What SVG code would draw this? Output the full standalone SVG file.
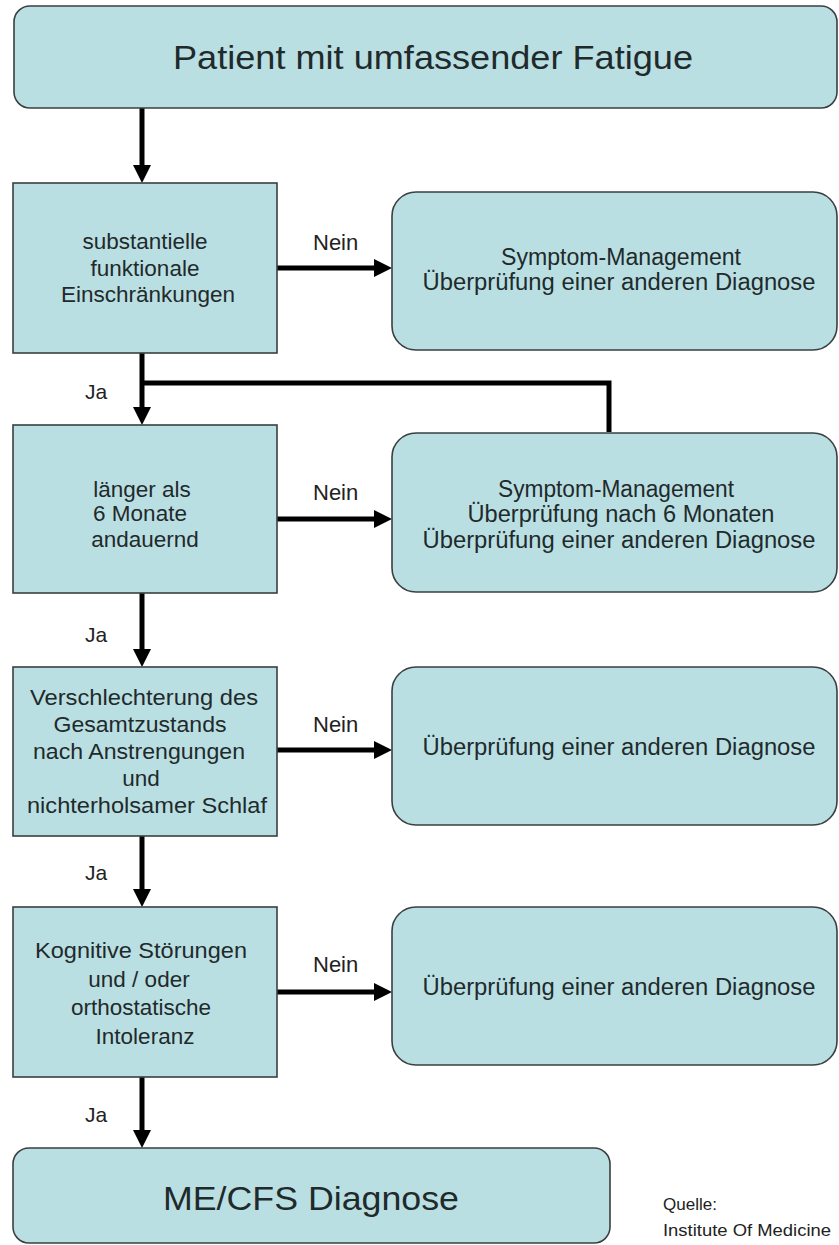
<svg xmlns="http://www.w3.org/2000/svg" width="839" height="1245" viewBox="0 0 839 1245">
<style>
.box{fill:#badfe3;stroke:#3a3f40;stroke-width:1.6}
.t{font-family:"Liberation Sans",Arial,sans-serif;fill:#1f2a2b;text-anchor:middle}
.b{font-size:22.5px}
.r{font-size:23px}
.lbl{font-family:"Liberation Sans",Arial,sans-serif;fill:#222}
.ja{font-size:21px}
.nein{font-size:22px}
.src{font-size:17px}
.ln{stroke:#000;stroke-width:5;fill:none}
</style>
<defs>
<marker id="ah" markerUnits="userSpaceOnUse" markerWidth="20" markerHeight="20" refX="8" refY="9" orient="auto">
<path d="M0,0 L18,9 L0,18 z" fill="#000"/>
</marker>
</defs>
<rect width="839" height="1245" fill="#fff"/>

<g id="connectors">
<line class="ln" x1="142" y1="108" x2="142" y2="173" marker-end="url(#ah)"/>
<line class="ln" x1="142" y1="353" x2="142" y2="415" marker-end="url(#ah)"/>
<polyline class="ln" points="142,383 609,383 609,432" stroke-linejoin="miter"/>
<line class="ln" x1="142" y1="593" x2="142" y2="657" marker-end="url(#ah)"/>
<line class="ln" x1="142" y1="836" x2="142" y2="897" marker-end="url(#ah)"/>
<line class="ln" x1="142" y1="1077" x2="142" y2="1138" marker-end="url(#ah)"/>
<line class="ln" x1="277" y1="268" x2="382" y2="268" marker-end="url(#ah)"/>
<line class="ln" x1="277" y1="519" x2="382" y2="519" marker-end="url(#ah)"/>
<line class="ln" x1="277" y1="750" x2="382" y2="750" marker-end="url(#ah)"/>
<line class="ln" x1="277" y1="992" x2="382" y2="992" marker-end="url(#ah)"/>
<text class="lbl nein" x="313" y="250">Nein</text>
<text class="lbl nein" x="313" y="500">Nein</text>
<text class="lbl nein" x="313" y="732">Nein</text>
<text class="lbl nein" x="313" y="972">Nein</text>
<text class="lbl ja" x="85" y="399">Ja</text>
<text class="lbl ja" x="85" y="642">Ja</text>
<text class="lbl ja" x="85" y="880">Ja</text>
<text class="lbl ja" x="85" y="1122">Ja</text>
</g>

<g id="start">
<rect class="box" x="14" y="6" width="823" height="102" rx="16" ry="16"/>
<text class="t" x="433" y="69" font-size="33" textLength="520" lengthAdjust="spacingAndGlyphs">Patient mit umfassender Fatigue</text>
</g>

<g id="q1">
<rect class="box" x="13" y="183" width="264" height="170"/>
<text class="t b" x="145" y="249">substantielle</text>
<text class="t b" x="145" y="276">funktionale</text>
<text class="t b" x="148" y="302">Einschränkungen</text>
</g>
<g id="r1">
<rect class="box" x="392" y="192" width="445" height="158" rx="24" ry="24"/>
<text class="t r" x="621" y="265" textLength="240" lengthAdjust="spacingAndGlyphs">Symptom-Management</text>
<text class="t r" x="619" y="290" textLength="393" lengthAdjust="spacingAndGlyphs">Überprüfung  einer anderen Diagnose</text>
</g>

<g id="q2">
<rect class="box" x="13" y="425" width="264" height="168"/>
<text class="t b" x="142" y="497">länger als</text>
<text class="t b" x="140" y="521">6 Monate</text>
<text class="t b" x="145" y="547">andauernd</text>
</g>
<g id="r2">
<rect class="box" x="392" y="433" width="445" height="159" rx="24" ry="24"/>
<text class="t r" x="616" y="497" textLength="236" lengthAdjust="spacingAndGlyphs">Symptom-Management</text>
<text class="t r" x="621" y="522" textLength="307" lengthAdjust="spacingAndGlyphs">Überprüfung  nach 6 Monaten</text>
<text class="t r" x="619" y="548" textLength="393" lengthAdjust="spacingAndGlyphs">Überprüfung  einer anderen Diagnose</text>
</g>

<g id="q3">
<rect class="box" x="13" y="667" width="264" height="169"/>
<text class="t b" x="144" y="705" textLength="228" lengthAdjust="spacingAndGlyphs">Verschlechterung  des</text>
<text class="t b" x="140" y="732" textLength="173" lengthAdjust="spacingAndGlyphs">Gesamtzustands</text>
<text class="t b" x="139" y="759" textLength="212" lengthAdjust="spacingAndGlyphs">nach Anstrengungen</text>
<text class="t b" x="141" y="786">und</text>
<text class="t b" x="147" y="813" textLength="240" lengthAdjust="spacingAndGlyphs">nichterholsamer  Schlaf</text>
</g>
<g id="r3">
<rect class="box" x="392" y="667" width="445" height="158" rx="24" ry="24"/>
<text class="t r" x="619" y="755" textLength="393" lengthAdjust="spacingAndGlyphs">Überprüfung  einer anderen Diagnose</text>
</g>

<g id="q4">
<rect class="box" x="13" y="907" width="264" height="170"/>
<text class="t b" x="141" y="958" textLength="212" lengthAdjust="spacingAndGlyphs">Kognitive Störungen</text>
<text class="t b" x="139" y="987">und / oder</text>
<text class="t b" x="141" y="1015">orthostatische</text>
<text class="t b" x="145" y="1044">Intoleranz</text>
</g>
<g id="r4">
<rect class="box" x="392" y="907" width="445" height="158" rx="24" ry="24"/>
<text class="t r" x="619" y="995" textLength="393" lengthAdjust="spacingAndGlyphs">Überprüfung  einer anderen Diagnose</text>
</g>

<g id="end">
<rect class="box" x="13" y="1148" width="597" height="95" rx="16" ry="16"/>
<text class="t" x="311" y="1210" font-size="34" textLength="296" lengthAdjust="spacingAndGlyphs">ME/CFS Diagnose</text>
</g>

<g id="source">
<text class="lbl src" x="663" y="1210">Quelle:</text>
<text class="lbl src" x="663" y="1236" textLength="168" lengthAdjust="spacingAndGlyphs">Institute Of Medicine</text>
</g>
</svg>
